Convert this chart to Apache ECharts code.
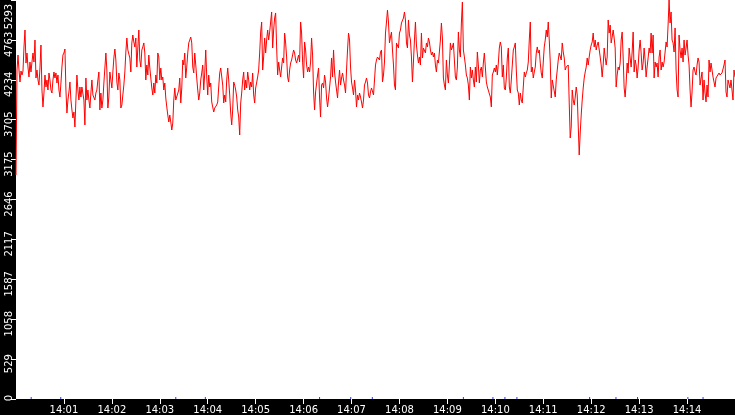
<!DOCTYPE html>
<html lang="en">

<head>
    <meta charset="UTF-8">
    <title>Load 14:00 - 14:15</title>
    <script src="https://cdn.jsdelivr.net/npm/echarts@6/dist/echarts.min.js"></script>
    <style>
        html, body { margin: 0; padding: 0; background: #000; }
        #main { width: 735px; height: 415px; }
    </style>
</head>

<body>
    <div id="main"></div>
    <script>
        // one sample every 1.25 s, starting at 14:00:00
        var stepSeconds = 1.25;
        var samples = [
            2971, 4364, 4563, 4364, 4205, 4351, 4298, 4351, 4670, 4895,
            4457, 4590, 4404, 4272, 4470, 4338, 4470, 4590, 4470, 4762,
            4258, 4364, 4232, 4165, 4391, 4696, 4099, 3874, 4059, 4298,
            4139, 4232, 4099, 4325, 4232, 4099, 4059, 4232, 4338, 4258,
            4325, 4192, 4298, 4099, 4006, 4192, 4404, 4563, 4590, 4643,
            4099, 3794, 3966, 4073, 4205, 3966, 3834, 3728, 3807, 3608,
            3966, 4298, 4099, 3966, 4139, 4006, 4139, 4165, 3966, 3635,
            4258, 3966, 4099, 3966, 3860, 4059, 4232, 4033, 4059, 3966,
            4059, 4099, 4232, 4338, 3834, 4059, 3860, 3966, 4192, 4391,
            4590, 4364, 3860, 4006, 4338, 4232, 4126, 4338, 4524, 4643,
            4497, 4205, 4099, 4325, 4232, 3860, 3900, 4033, 4165, 4338,
            4603, 4789, 4630, 4656, 4524, 4338, 4723, 4829, 4736, 4670,
            // 14:02:30
            4789, 4404, 4656, 4895, 4497, 4404, 4630, 4670, 4723, 4590,
            4232, 4431, 4298, 4563, 4391, 4258, 4126, 4033, 4192, 4059,
            4298, 4192, 4590, 4537, 4232, 4391, 4232, 4272, 4099, 4192,
            3993, 3874, 3767, 3675, 3767, 3675, 3568, 3661, 3966, 4126,
            3966, 3940, 3966, 4099, 4258, 3927, 4126, 4497, 4431, 4590,
            4258, 4404, 4590, 4723, 4762, 4802, 4723, 4404, 4325, 4590,
            4431, 4258, 4099, 3966, 4059, 4232, 4325, 4431, 4099, 4325,
            4630, 4272, 4033, 4298, 4139, 4192, 3940, 3927, 3807, 3860,
            3834, 3900, 3940, 4139, 4325, 4391, 4404, 4165, 3927, 4033,
            3940, 4232, 4391, 4232, 4033, 3794, 3635, 3834, 4205, 4165,
            4099, 4006, 3834, 3741, 3502, 3927, 4059, 4232, 4338, 4099,
            4232, 4126, 4338, 4232, 4099, 4205, 4139, 4325, 4033, 3927,
            // 14:05:00
            4126, 4139, 4272, 4364, 4590, 4868, 5001, 4364, 4537, 4789,
            4590, 4762, 4895, 4762, 4868, 4855, 5134, 4656, 4895, 5054,
            5121, 4670, 4298, 4470, 4364, 4272, 4404, 4524, 4457, 4855,
            4723, 4537, 4272, 4205, 4364, 4457, 4497, 4563, 4630, 4590,
            4497, 4457, 4431, 4563, 4470, 5001, 4855, 4470, 4258, 4736,
            4630, 4431, 4338, 4404, 4338, 4470, 4789, 4563, 4073, 3834,
            4073, 4099, 4298, 4391, 3993, 3741, 4165, 4192, 4126, 4298,
            4205, 3993, 3874, 3993, 4006, 4272, 4524, 4272, 4630, 4338,
            4205, 4099, 3993, 4205, 4364, 4165, 4258, 4325, 4232, 4165,
            4059, 4364, 4630, 4855, 4762, 4404, 4205, 4126, 4033, 4232,
            4099, 3874, 4033, 3966, 4059, 4006, 3940, 3860, 3966, 4165,
            4205, 4258, 4192, 4033, 3993, 4073, 4126, 4139, 4033, 4232,
            // 14:07:30
            4431, 4497, 4537, 4524, 4497, 4603, 4630, 4205, 4298, 4470,
            4855, 5001, 5160, 5001, 4723, 4802, 4868, 4630, 4431, 4165,
            4099, 4723, 4736, 4656, 4855, 4895, 4988, 5001, 5054, 5134,
            5028, 4723, 4656, 5028, 4829, 4762, 4537, 4205, 4470, 4762,
            5001, 4696, 4563, 4457, 4537, 4431, 4855, 4524, 4656, 4630,
            4590, 4723, 4670, 4789, 4736, 4630, 4563, 4603, 4537, 4590,
            4431, 4338, 4497, 4457, 4470, 4762, 4988, 4789, 4258, 4165,
            4099, 4497, 4298, 4192, 4431, 4723, 4630, 4670, 4723, 4497,
            4272, 4232, 4404, 4868, 4630, 4537, 4988, 5266, 4630, 4537,
            4431, 4298, 4258, 4165, 3966, 4404, 4258, 4364, 4232, 4139,
            4404, 4205, 4603, 4431, 4192, 4364, 4404, 4272, 4457, 4590,
            4404, 4205, 4139, 4165, 4126, 4006, 3874, 4298, 4338, 4391,
            // 14:10:00
            4338, 4431, 4298, 4457, 4656, 4736, 4670, 4272, 4431, 4126,
            4099, 4258, 4524, 4656, 4139, 4059, 4232, 4258, 4630, 4670,
            4723, 4364, 4099, 4059, 3900, 4059, 3966, 3927, 4139, 4338,
            4272, 4325, 4364, 4470, 4762, 5001, 4338, 4404, 4258, 4338,
            4404, 4590, 4670, 4590, 4630, 4457, 4325, 4258, 4470, 4670,
            4762, 4895, 4802, 5001, 4762, 4470, 3993, 4232, 4258, 4232,
            4006, 4232, 4364, 4497, 4590, 4603, 4497, 4723, 4603, 4524,
            4364, 4404, 4404, 4431, 3927, 3462, 3608, 4099, 3966, 3900,
            4006, 4139, 4033, 3635, 3237, 3529, 3767, 3966, 4126, 4258,
            4338, 4404, 4524, 4431, 4537, 4630, 4696, 4736, 4855, 4670,
            4762, 4630, 4696, 4736, 4723, 4537, 4431, 4272, 4431, 4656,
            4537, 4431, 4537, 5028, 4855, 4961, 4723, 4802, 4895, 4789,
            // 14:12:30
            4656, 4139, 4298, 4404, 4364, 4457, 4762, 4868, 4537, 4126,
            4006, 4192, 4457, 4325, 4656, 4524, 4404, 4603, 4868, 4338,
            4497, 4431, 4258, 4404, 4630, 4762, 4590, 4364, 4457, 4656,
            4497, 4272, 4404, 4524, 4656, 4590, 4855, 4590, 4829, 4258,
            4470, 4404, 4457, 4272, 4537, 4630, 4364, 4470, 4404, 4470,
            4603, 4736, 4670, 4961, 5293, 4988, 5134, 4762, 4723, 4603,
            4922, 4364, 4099, 4006, 4829, 4630, 4524, 4656, 4470, 4762,
            4563, 4656, 4762, 4563, 4431, 4099, 3874, 4073, 4364, 4404,
            4338, 4298, 4431, 4524, 4470, 4165, 4139, 4338, 3966, 4232,
            4059, 3940, 4165, 4006, 4497, 4338, 4457, 4431, 4272, 4205,
            4139, 4258, 4272, 4232, 4325, 4298, 4272, 4325, 4325, 4431,
            4497, 4073, 4006, 4232, 4258, 4126, 4232, 4258, 3966, 4364,
            4272
        ];

        // small blue marks along the bottom edge, seconds after 14:00:00
        var eventSeconds = [19, 56, 200, 237, 380, 419, 446, 560, 597, 612, 627, 718, 751, 778, 841, 860];

        var yStep = 529.3;
        var yTickLabels = ['0', '529', '1058', '1587', '2117', '2646', '3175', '3705', '4234', '4763', '5293'];
        var xStart = 0, xEnd = 900;

        function pad2(n) {
            return n < 10 ? '0' + n : '' + n;
        }

        var lineData = [];
        for (var i = 0; i < samples.length; i++) {
            lineData.push([i * stepSeconds, samples[i]]);
        }
        var eventData = [];
        for (var j = 0; j < eventSeconds.length; j++) {
            eventData.push([eventSeconds[j], 0]);
        }

        var myChart = echarts.init(document.getElementById('main'));
        var font = 'DejaVu Sans';

        var option = {
            animation: false,
            backgroundColor: '#000',
            grid: {
                left: 16, right: 0, top: 0, bottom: 16,
                show: true, backgroundColor: '#fff', borderWidth: 0
            },
            xAxis: {
                type: 'value',
                min: xStart, max: xEnd, interval: 60,
                axisLine: { show: false },
                splitLine: { show: false },
                axisTick: { show: true, length: 5, lineStyle: { color: '#fff', width: 1 } },
                axisLabel: {
                    color: '#fff', fontFamily: font, fontSize: 10, margin: 6,
                    showMinLabel: false, showMaxLabel: false,
                    formatter: function (s) {
                        return '14:' + pad2(Math.round(s / 60));
                    }
                }
            },
            yAxis: {
                type: 'value',
                min: 0, max: 5293, interval: yStep,
                axisLine: { show: false },
                splitLine: { show: false },
                axisTick: { show: true, length: 5, lineStyle: { color: '#fff', width: 1 } },
                axisLabel: {
                    color: '#fff', fontFamily: font, fontSize: 10, margin: 2, rotate: 90,
                    showMinLabel: true, showMaxLabel: true,
                    formatter: function (v) {
                        var k = Math.round(v / yStep);
                        var t = yTickLabels[k];
                        if (k === yTickLabels.length - 1) return '{top|' + t + '}';
                        if (k === 0) return '{zero|' + t + '}';
                        return '{n|' + t + '}';
                    },
                    rich: {
                        n: { color: '#fff', fontFamily: font, fontSize: 10, padding: [0, 9, 0, 0] },
                        top: { color: '#fff', fontFamily: font, fontSize: 10, padding: [0, 33, 0, 0] },
                        zero: { color: '#fff', fontFamily: font, fontSize: 10, padding: [0, 0, 0, 2] }
                    }
                }
            },
            series: [{
                type: 'line',
                data: lineData,
                showSymbol: false,
                symbol: 'none',
                sampling: null,
                lineStyle: { color: '#ff0000', width: 1 },
                z: 2
            }, {
                type: 'scatter',
                data: eventData,
                symbol: 'rect',
                symbolSize: [1, 2],
                symbolOffset: [0, -1],
                itemStyle: { color: '#0000cc' },
                clip: false,
                z: 3
            }]
        };

        myChart.setOption(option);
    </script>
</body>

</html>
